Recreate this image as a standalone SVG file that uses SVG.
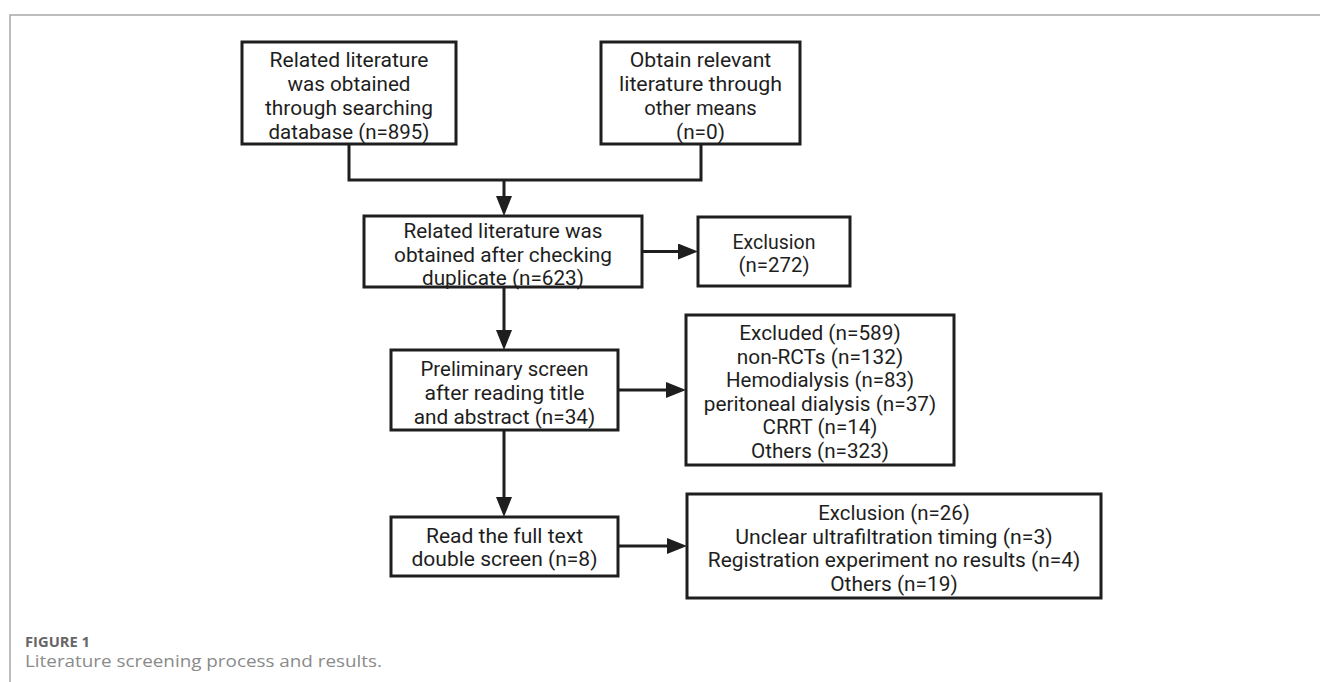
<svg xmlns="http://www.w3.org/2000/svg" width="1320" height="682" viewBox="0 0 1320 682">
<style>
.box{fill:#fff;stroke:#1e1e1e;stroke-width:3}
.t{font-family:Roboto,"Open Sans","Liberation Sans",sans-serif;font-size:20px;fill:#1e1e1e;text-anchor:middle}
.c{fill:none;stroke:#1e1e1e;stroke-width:3}
.frame{fill:none;stroke:#a8a8a8;stroke-width:1.5}
.cap1{font-family:"Open Sans","Noto Sans","Liberation Sans",sans-serif;font-size:13.5px;font-weight:bold;fill:#666}
.cap2{font-family:"Open Sans","Noto Sans","Liberation Sans",sans-serif;font-size:16px;fill:#8a8a8a}
</style>
<defs>
<marker id="ah" markerUnits="userSpaceOnUse" markerWidth="20" markerHeight="16" refX="2" refY="8" orient="auto">
<path d="M0,0 L20,8 L0,16 Z" fill="#1e1e1e"/>
</marker>
</defs>
<rect width="1320" height="682" fill="#fff"/>
<path class="frame" d="M10,682 V15 H1320"/>
<g id="connectors">
<path class="c" d="M349,144 V180 H701 V144"/>
<path class="c" d="M504,180 V198" marker-end="url(#ah)"/>
<path class="c" d="M642,251.5 H680" marker-end="url(#ah)"/>
<path class="c" d="M504,287 V332" marker-end="url(#ah)"/>
<path class="c" d="M618,390 H668" marker-end="url(#ah)"/>
<path class="c" d="M504,430 V499" marker-end="url(#ah)"/>
<path class="c" d="M618,546 H669" marker-end="url(#ah)"/>
</g>
<g id="n1">
<rect class="box" x="242" y="42" width="214" height="102"/>
<text class="t" x="349" y="66.5" textLength="159" lengthAdjust="spacingAndGlyphs">Related literature</text>
<text class="t" x="349" y="90.5" textLength="123" lengthAdjust="spacingAndGlyphs">was obtained</text>
<text class="t" x="349" y="114.5" textLength="168" lengthAdjust="spacingAndGlyphs">through searching</text>
<text class="t" x="349" y="138.5" textLength="161" lengthAdjust="spacingAndGlyphs">database (n=895)</text>
</g>
<g id="n2">
<rect class="box" x="601" y="42" width="199" height="102"/>
<text class="t" x="700.5" y="66.5" textLength="141.5" lengthAdjust="spacingAndGlyphs">Obtain relevant</text>
<text class="t" x="700.5" y="90.5" textLength="163" lengthAdjust="spacingAndGlyphs">literature through</text>
<text class="t" x="700.5" y="114.5" textLength="112.5" lengthAdjust="spacingAndGlyphs">other means</text>
<text class="t" x="700.5" y="138.5" textLength="49" lengthAdjust="spacingAndGlyphs">(n=0)</text>
</g>
<g id="n3">
<rect class="box" x="364" y="216" width="278" height="71"/>
<text class="t" x="503" y="237.5" textLength="199" lengthAdjust="spacingAndGlyphs">Related literature was</text>
<text class="t" x="503" y="261.5" textLength="218" lengthAdjust="spacingAndGlyphs">obtained after checking</text>
<text class="t" x="503" y="285" textLength="162" lengthAdjust="spacingAndGlyphs">duplicate (n=623)</text>
</g>
<g id="n4">
<rect class="box" x="698" y="217" width="152" height="69"/>
<text class="t" x="774" y="248.5" textLength="83" lengthAdjust="spacingAndGlyphs">Exclusion</text>
<text class="t" x="774" y="272" textLength="71" lengthAdjust="spacingAndGlyphs">(n=272)</text>
</g>
<g id="n5">
<rect class="box" x="391" y="350" width="227" height="80"/>
<text class="t" x="504.5" y="375.5" textLength="168" lengthAdjust="spacingAndGlyphs">Preliminary screen</text>
<text class="t" x="504.5" y="399.5" textLength="160" lengthAdjust="spacingAndGlyphs">after reading title</text>
<text class="t" x="504.5" y="423.5" textLength="181.5" lengthAdjust="spacingAndGlyphs">and abstract (n=34)</text>
</g>
<g id="n6">
<rect class="box" x="686" y="315" width="268" height="150"/>
<text class="t" x="820" y="340" textLength="161.5" lengthAdjust="spacingAndGlyphs">Excluded (n=589)</text>
<text class="t" x="820" y="363.5" textLength="166.5" lengthAdjust="spacingAndGlyphs">non-RCTs (n=132)</text>
<text class="t" x="820" y="387" textLength="188" lengthAdjust="spacingAndGlyphs">Hemodialysis (n=83)</text>
<text class="t" x="820" y="410.5" textLength="232.5" lengthAdjust="spacingAndGlyphs">peritoneal dialysis (n=37)</text>
<text class="t" x="820" y="434" textLength="115" lengthAdjust="spacingAndGlyphs">CRRT (n=14)</text>
<text class="t" x="820" y="457.5" textLength="138" lengthAdjust="spacingAndGlyphs">Others (n=323)</text>
</g>
<g id="n7">
<rect class="box" x="391" y="517" width="227" height="59"/>
<text class="t" x="504.5" y="542.5" textLength="157" lengthAdjust="spacingAndGlyphs">Read the full text</text>
<text class="t" x="504.5" y="566" textLength="186" lengthAdjust="spacingAndGlyphs">double screen (n=8)</text>
</g>
<g id="n8">
<rect class="box" x="687" y="494" width="414" height="104"/>
<text class="t" x="894" y="519.5" textLength="151.5" lengthAdjust="spacingAndGlyphs">Exclusion (n=26)</text>
<text class="t" x="894" y="543.5" textLength="317.5" lengthAdjust="spacingAndGlyphs">Unclear ultrafiltration timing (n=3)</text>
<text class="t" x="894" y="567" textLength="372.5" lengthAdjust="spacingAndGlyphs">Registration experiment no results (n=4)</text>
<text class="t" x="894" y="591" textLength="127.5" lengthAdjust="spacingAndGlyphs">Others (n=19)</text>
</g>
<text class="cap1" x="25" y="647" textLength="65" lengthAdjust="spacingAndGlyphs">FIGURE 1</text>
<text class="cap2" x="25" y="667" textLength="357" lengthAdjust="spacingAndGlyphs">Literature screening process and results.</text>
</svg>
